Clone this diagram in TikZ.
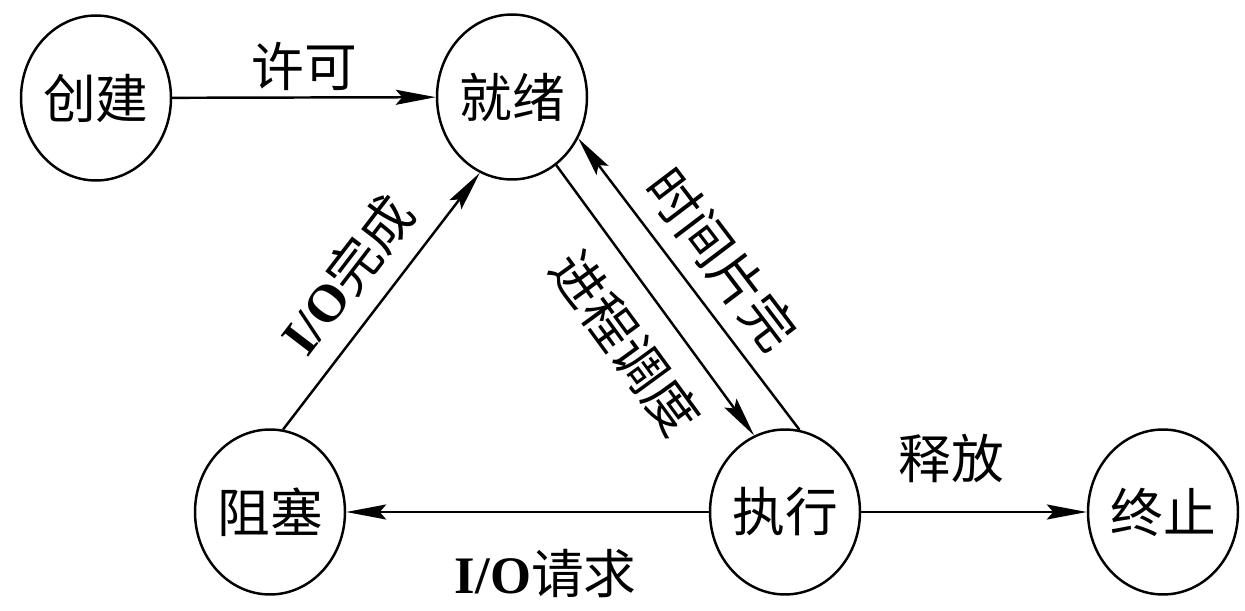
\documentclass[tikz,border=0pt]{standalone}
\usepackage{fontspec}
\setmainfont{Liberation Serif}
\newfontfamily\cjk{Noto Sans CJK SC}
\usetikzlibrary{arrows.meta,shapes.geometric}
\newcommand{\io}{{\rmfamily\bfseries I/O}}

\begin{document}
\begin{tikzpicture}[>={Stealth[length=0.8cm,width=0.3cm,inset=0.13cm]},
  x=0.02cm, y=-0.02cm,
  state/.style={draw, ellipse, line width=1.4pt, minimum width=3cm,
    minimum height=3.3cm, inner sep=0pt, font=\fontsize{30}{30}\cjk},
  trans/.style={->, line width=1.4pt},
  lab/.style={font=\fontsize{30}{30}\cjk}]
  \useasboundingbox (0,0) rectangle (1245,611);

  % States
  \foreach \name/\x/\y/\txt in {create/96/98/创建, ready/512/97/就绪,
      block/270/512/阻塞, run/785/512/执行, done/1163/512/终止} {
    \node[state] (\name) at (\x,\y) {\txt};
  }

  % Horizontal transitions
  \draw[trans] (create) -- (ready)
    node[lab, midway, above] {许可};
  \draw[trans] (run) -- (block)
    node[lab, pos=0.45, below=0.6cm] {\io 请求};
  \draw[trans] (run) -- (done)
    node[lab, pos=0.4, above=0.45cm] {释放};

  % Diagonal transitions
  \draw[trans] (block.81) -- (ready.-113)
    node[lab, midway, sloped, above=0.25cm] {\io 完成};
  \draw[trans] (ready.-57) -- (run.112)
    node[lab, pos=0.55, sloped, below=0.35cm] {进程调度};
  \draw[trans] (run.80) -- (ready.-32)
    node[lab, pos=0.5, sloped, above=0.2cm] {时间片完};
\end{tikzpicture}
\end{document}
